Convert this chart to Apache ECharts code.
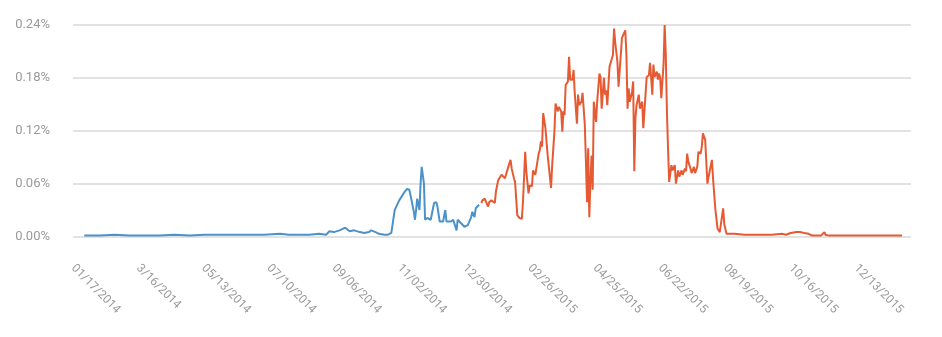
<!DOCTYPE html>
<html>
<head>
<meta charset="utf-8">
<script src="https://cdn.jsdelivr.net/npm/echarts@6/dist/echarts.min.js"></script>
<style>
  html, body { margin: 0; padding: 0; background: #ffffff; }
  #chart { width: 942px; height: 337px; }
</style>
</head>
<body>
<div id="chart"></div>
<script>
// Days are counted from 01/17/2014; values are shares in percent.
const tickLabels = ['01/17/2014', '3/16/2014', '05/13/2014', '07/10/2014', '09/06/2014',
  '11/02/2014', '12/30/2014', '02/26/2015', '04/25/2015', '06/22/2015',
  '08/19/2015', '10/16/2015', '12/13/2015'];
const tickStepDays = 58;

const blueDays = [10, 24, 37, 50, 64, 77, 90, 104, 117, 130, 144, 157, 170, 184, 192, 201, 210, 219, 225,
  228, 232, 237, 242, 246, 250, 255, 259, 263, 265, 269, 272, 277, 280, 283,
  286, 290, 295, 297, 299, 301, 303, 304, 305, 306, 308, 309, 310, 312, 313, 315, 318,
  321, 323, 324, 326, 329, 331, 332, 336, 338, 341, 342, 345, 348, 351, 354, 355, 357, 358, 361];
const blueValues = [0.001, 0.001, 0.002, 0.001, 0.001, 0.001, 0.002, 0.001, 0.002, 0.002, 0.002, 0.002, 0.002, 0.003, 0.002, 0.002, 0.002, 0.003, 0.002,
  0.006, 0.005, 0.007, 0.010, 0.006, 0.007, 0.005, 0.004, 0.005, 0.007, 0.005, 0.003, 0.002, 0.002, 0.004,
  0.030, 0.041, 0.051, 0.054, 0.053, 0.041, 0.028, 0.019, 0.030, 0.043, 0.030, 0.060, 0.079, 0.060, 0.019, 0.021, 0.019,
  0.038, 0.039, 0.034, 0.017, 0.017, 0.030, 0.017, 0.017, 0.019, 0.007, 0.019, 0.015, 0.011, 0.013, 0.022, 0.028, 0.022, 0.032, 0.036];

const orangeDays = [363, 364, 366, 367, 369, 370, 372, 373, 375, 376, 378, 379, 381, 382, 384, 385, 387, 388, 389, 390,
  392, 393, 395, 397, 399, 400, 401, 402, 403, 405, 406, 408, 409, 411, 412, 414, 415, 416, 417, 418,
  420, 422, 425, 426, 428, 429, 431, 432, 434, 435, 436, 437, 438, 440, 441, 442, 444, 445, 446, 448,
  449, 450, 452, 453, 455, 456, 457, 458, 459, 460, 461, 462, 463, 465, 466, 468, 469, 470, 472, 473,
  474, 475, 477, 478, 480, 481, 482, 484, 485, 487, 488, 490, 491, 492, 493, 494, 495, 497, 498, 499,
  500, 501, 503, 504, 506, 507, 509, 510, 512, 513, 514, 515, 516, 517, 519, 520, 521, 522, 523, 525,
  526, 527, 528, 529, 530, 532, 533, 535, 536, 538, 539, 541, 542, 544, 545, 546, 547, 549, 550, 552,
  553, 555, 556, 558, 559, 560, 562, 563, 564, 566, 568, 569, 571, 573, 575, 576, 578, 579, 581, 588,
  597, 610, 621, 631, 634, 638, 643, 647, 650, 654, 657, 665, 668, 669, 672, 684, 699, 717, 737];
const orangeValues = [0.038, 0.041, 0.043, 0.045, 0.034, 0.039, 0.041, 0.041, 0.038, 0.051, 0.064, 0.062, 0.070, 0.072, 0.066, 0.064, 0.079, 0.081, 0.087, 0.077,
  0.066, 0.062, 0.024, 0.021, 0.020, 0.038, 0.036, 0.096, 0.074, 0.049, 0.058, 0.057, 0.075, 0.070, 0.072, 0.094, 0.098, 0.108, 0.102, 0.140,
  0.123, 0.092, 0.055, 0.081, 0.119, 0.151, 0.142, 0.147, 0.142, 0.119, 0.142, 0.138, 0.172, 0.176, 0.204, 0.178, 0.178, 0.189, 0.164, 0.128,
  0.161, 0.149, 0.153, 0.163, 0.127, 0.085, 0.039, 0.100, 0.022, 0.062, 0.092, 0.053, 0.153, 0.130, 0.153, 0.185, 0.181, 0.145, 0.180, 0.161,
  0.166, 0.149, 0.193, 0.195, 0.206, 0.236, 0.221, 0.198, 0.170, 0.206, 0.225, 0.231, 0.234, 0.206, 0.145, 0.168, 0.153, 0.164, 0.176, 0.074,
  0.134, 0.149, 0.161, 0.145, 0.153, 0.123, 0.161, 0.181, 0.183, 0.197, 0.180, 0.161, 0.195, 0.181, 0.187, 0.178, 0.185, 0.180, 0.157, 0.195,
  0.240, 0.206, 0.142, 0.100, 0.062, 0.081, 0.075, 0.081, 0.060, 0.075, 0.068, 0.075, 0.070, 0.077, 0.074, 0.094, 0.085, 0.077, 0.072, 0.079,
  0.072, 0.079, 0.096, 0.094, 0.102, 0.117, 0.110, 0.108, 0.060, 0.074, 0.087, 0.066, 0.032, 0.009, 0.005, 0.004, 0.032, 0.014, 0.003, 0.003,
  0.002, 0.002, 0.002, 0.003, 0.002, 0.004, 0.005, 0.005, 0.004, 0.003, 0.001, 0.001, 0.005, 0.002, 0.001, 0.001, 0.001, 0.001, 0.001];

const yMax = 0.24;
const yStep = 0.06;

const pairs = (days, values) => days.map((d, i) => [d, values[i]]);
const labelDays = tickLabels.map((_, i) => i * tickStepDays);

const chart = echarts.init(document.getElementById('chart'), null, { renderer: 'canvas' });
chart.setOption({
  animation: false,
  backgroundColor: '#ffffff',
  textStyle: { fontFamily: 'Roboto' },
  grid: { left: 73, right: 31, top: 25, bottom: 100.5 },
  xAxis: {
    type: 'value',
    min: 0,
    max: 745,
    axisLine: { show: false },
    axisTick: { show: false },
    splitLine: { show: false },
    axisLabel: {
      customValues: labelDays,
      rotate: -45,
      margin: 30,
      color: '#9a9a9a',
      fontSize: 12,
      fontFamily: 'Roboto',
      formatter: (v) => tickLabels[Math.round(v / tickStepDays)]
    }
  },
  yAxis: {
    type: 'value',
    min: 0,
    max: yMax,
    interval: yStep,
    axisLine: { show: false },
    axisTick: { show: false },
    axisLabel: {
      margin: 23,
      color: '#9a9a9a',
      fontSize: 13,
      fontFamily: 'Roboto',
      formatter: (v) => v.toFixed(2) + '%'
    },
    splitLine: { lineStyle: { color: '#e2e2e2', width: 2 } }
  },
  series: [
    {
      type: 'line',
      data: pairs(blueDays, blueValues),
      showSymbol: false,
      lineStyle: { color: '#4a92c9', width: 2 },
      itemStyle: { color: '#4a92c9' }
    },
    {
      type: 'line',
      data: pairs(orangeDays, orangeValues),
      showSymbol: false,
      lineStyle: { color: '#e65a33', width: 2 },
      itemStyle: { color: '#e65a33' }
    }
  ]
});
</script>
</body>
</html>
